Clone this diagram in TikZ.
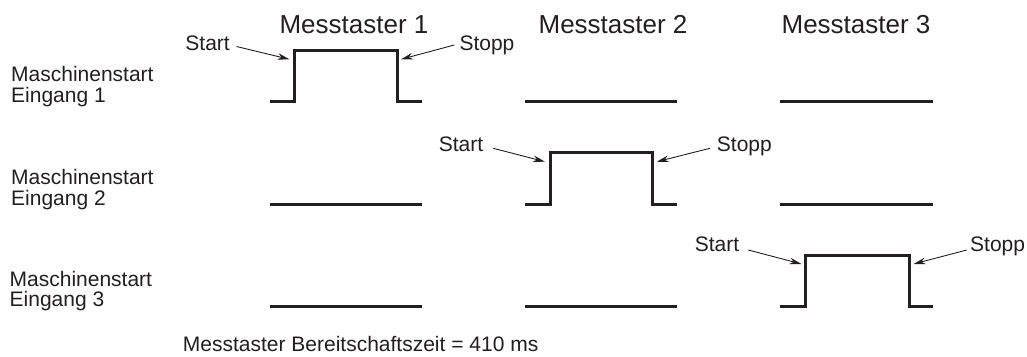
\documentclass[tikz,border=0pt]{standalone}
\usepackage{fontspec}
\setmainfont{Liberation Sans}
\usetikzlibrary{arrows.meta}
\definecolor{ink}{HTML}{231F20}
\begin{document}
\begin{tikzpicture}[x=1pt,y=-1pt,
  signal/.style={ink, line width=3pt, line join=miter, line cap=butt},
  pointer/.style={ink, line width=0.9pt, -{Stealth[length=12pt,width=6.5pt]}},
  title/.style={text=ink, font=\fontsize{26}{26}\selectfont, inner sep=0pt, anchor=base},
  edgelbl/.style={text=ink, font=\fontsize{21}{21}\selectfont, inner sep=0pt},
  rowlbl/.style={text=ink, font=\fontsize{21}{21}\selectfont, inner sep=0pt, anchor=base west}]
\useasboundingbox (0,0) rectangle (1027,356);

% column titles
\node[title] (t1) at (354,33) {Messtaster 1};
\node[title] (t2) at (613,33) {Messtaster 2};
\node[title] (t3) at (856,33) {Messtaster 3};

% row labels
\node[rowlbl] (r1a) at (11,81.7) {Maschinenstart};
\node[rowlbl] (r1b) at (11,102) {Eingang 1};
\node[rowlbl] (r2a) at (11,184.3) {Maschinenstart};
\node[rowlbl] (r2b) at (11,205) {Eingang 2};
\node[rowlbl] (r3a) at (9.5,286.7) {Maschinenstart};
\node[rowlbl] (r3b) at (9.5,306.7) {Eingang 3};

% signal traces: one pulse per row, flat elsewhere
\draw[signal] (270,101) -- (294.3,101) -- (294.3,50) -- (397.7,50) -- (397.7,101) -- (421.5,101);
\draw[signal] (525,101) -- (677,101);
\draw[signal] (780,101) -- (933,101);

\draw[signal] (270,204) -- (421.5,204);
\draw[signal] (525,204) -- (550,204) -- (550,152.7) -- (652.5,152.7) -- (652.5,204) -- (677,204);
\draw[signal] (780,204) -- (933,204);

\draw[signal] (270,306.5) -- (421.5,306.5);
\draw[signal] (525,306.5) -- (677,306.5);
\draw[signal] (780,306.5) -- (805.7,306.5) -- (805.7,255) -- (909.3,255) -- (909.3,306.5) -- (933,306.5);

% points on the rising and falling edges
\coordinate (up1) at (289.5,59.3);
\coordinate (dn1) at (401,59.3);
\coordinate (up2) at (545,161.7);
\coordinate (dn2) at (656.7,161.7);
\coordinate (up3) at (801.5,264);
\coordinate (dn3) at (913.5,264);

% edge labels
\node[edgelbl, anchor=base east] (sa1) at (230,50) {Start};
\node[edgelbl, anchor=base west] (so1) at (459.3,50) {Stopp};
\node[edgelbl, anchor=base east] (sa2) at (483.3,151.7) {Start};
\node[edgelbl, anchor=base west] (so2) at (716.7,151.7) {Stopp};
\node[edgelbl, anchor=base east] (sa3) at (739.3,251.7) {Start};
\node[edgelbl, anchor=base west] (so3) at (970,251.7) {Stopp};

\draw[pointer] ([xshift=6.5pt,yshift=3.5pt]sa1.base east) -- (up1);
\draw[pointer] ([xshift=-5pt,yshift=5pt]so1.base west) -- (dn1);
\draw[pointer] ([xshift=10pt,yshift=3.4pt]sa2.base east) -- (up2);
\draw[pointer] ([xshift=-6.7pt,yshift=3.4pt]so2.base west) -- (dn2);
\draw[pointer] ([xshift=9pt,yshift=1.7pt]sa3.base east) -- (up3);
\draw[pointer] ([xshift=-3.3pt,yshift=1.7pt]so3.base west) -- (dn3);

% footnote
\node[rowlbl] (note) at (182.7,351.7) {Messtaster Bereitschaftszeit = 410 ms};
\end{tikzpicture}
\end{document}
